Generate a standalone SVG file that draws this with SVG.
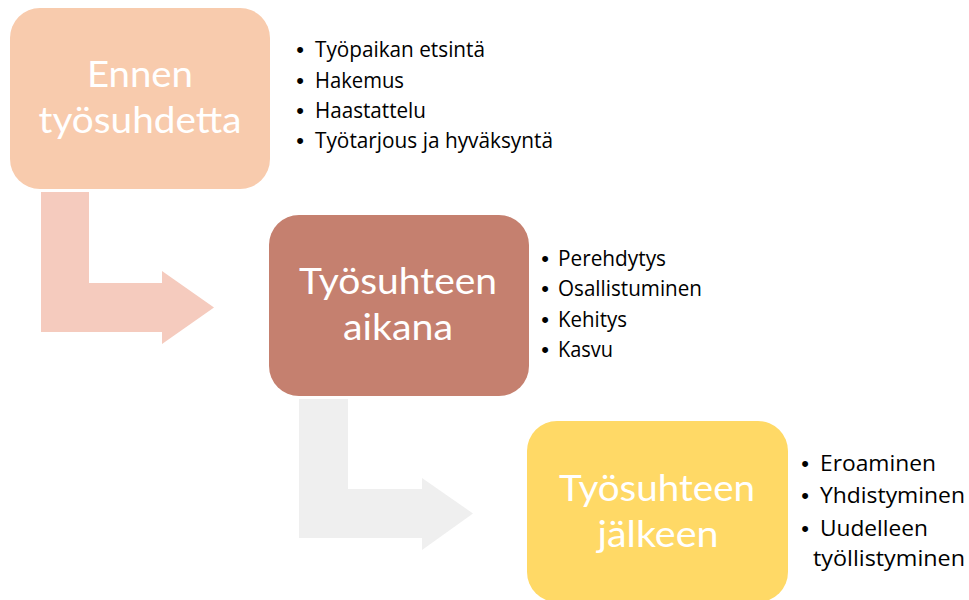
<svg xmlns="http://www.w3.org/2000/svg" width="969" height="600" viewBox="0 0 969 600">
<style>
.box-t{font-family:Lato,"Open Sans","Liberation Sans",sans-serif;font-size:37px;font-weight:400;fill:#ffffff;}
.li{font-family:"Open Sans","Noto Sans","Liberation Sans",sans-serif;font-size:22px;fill:#000000;}
.bu{font-family:"Liberation Sans",sans-serif;font-size:22px;fill:#000000;text-anchor:middle;}
</style>
<rect width="969" height="600" fill="#ffffff"/>
<g id="connectors">
<path d="M41,192 H89 V283 H162 V271 L214,307.5 L162,344 V332 H41 Z" fill="#F5CBBE"/>
<path d="M299,399 H348 V489 H422 V478 L473,513.5 L422,550 V538 H299 Z" fill="#EFEFEF"/>
</g>
<g id="node-ennen">
<rect x="10" y="8" width="260" height="181" rx="30" fill="#F8CBAD"/>
<text class="box-t" x="140" y="87" text-anchor="middle" textLength="106" lengthAdjust="spacingAndGlyphs">Ennen</text>
<text class="box-t" x="140" y="133" text-anchor="middle" textLength="203" lengthAdjust="spacingAndGlyphs">työsuhdetta</text>
</g>
<g id="list-ennen">
<text class="bu" x="300" y="57">•</text><text class="li" x="315" y="57" textLength="170" lengthAdjust="spacingAndGlyphs">Työpaikan etsintä</text>
<text class="bu" x="300" y="88">•</text><text class="li" x="315" y="88" textLength="89" lengthAdjust="spacingAndGlyphs">Hakemus</text>
<text class="bu" x="300" y="118">•</text><text class="li" x="315" y="118" textLength="111" lengthAdjust="spacingAndGlyphs">Haastattelu</text>
<text class="bu" x="300" y="148">•</text><text class="li" x="315" y="148" textLength="238" lengthAdjust="spacingAndGlyphs">Työtarjous ja hyväksyntä</text>
</g>
<g id="node-aikana">
<rect x="269" y="215" width="260" height="181" rx="30" fill="#C5806F"/>
<text class="box-t" x="398" y="294" text-anchor="middle" textLength="198" lengthAdjust="spacingAndGlyphs">Työsuhteen</text>
<text class="box-t" x="398" y="340" text-anchor="middle" textLength="110" lengthAdjust="spacingAndGlyphs">aikana</text>
</g>
<g id="list-aikana">
<text class="bu" x="545" y="266">•</text><text class="li" x="558" y="266" textLength="108" lengthAdjust="spacingAndGlyphs">Perehdytys</text>
<text class="bu" x="545" y="296">•</text><text class="li" x="558" y="296" textLength="144" lengthAdjust="spacingAndGlyphs">Osallistuminen</text>
<text class="bu" x="545" y="327">•</text><text class="li" x="558" y="327" textLength="69" lengthAdjust="spacingAndGlyphs">Kehitys</text>
<text class="bu" x="545" y="357">•</text><text class="li" x="558" y="357" textLength="55" lengthAdjust="spacingAndGlyphs">Kasvu</text>
</g>
<g id="node-jalkeen">
<rect x="527" y="421" width="261" height="181" rx="30" fill="#FFD966"/>
<text class="box-t" x="657" y="501" text-anchor="middle" textLength="196" lengthAdjust="spacingAndGlyphs">Työsuhteen</text>
<text class="box-t" x="658" y="547" text-anchor="middle" textLength="121" lengthAdjust="spacingAndGlyphs">jälkeen</text>
</g>
<g id="list-jalkeen">
<text class="bu" x="805" y="471">•</text><text class="li" x="820" y="471" textLength="116" lengthAdjust="spacingAndGlyphs">Eroaminen</text>
<text class="bu" x="805" y="503">•</text><text class="li" x="820" y="503" textLength="145" lengthAdjust="spacingAndGlyphs">Yhdistyminen</text>
<text class="bu" x="805" y="536">•</text><text class="li" x="820" y="536" textLength="108" lengthAdjust="spacingAndGlyphs">Uudelleen</text>
<text class="li" x="813" y="566" textLength="152" lengthAdjust="spacingAndGlyphs">työllistyminen</text>
</g>
</svg>
